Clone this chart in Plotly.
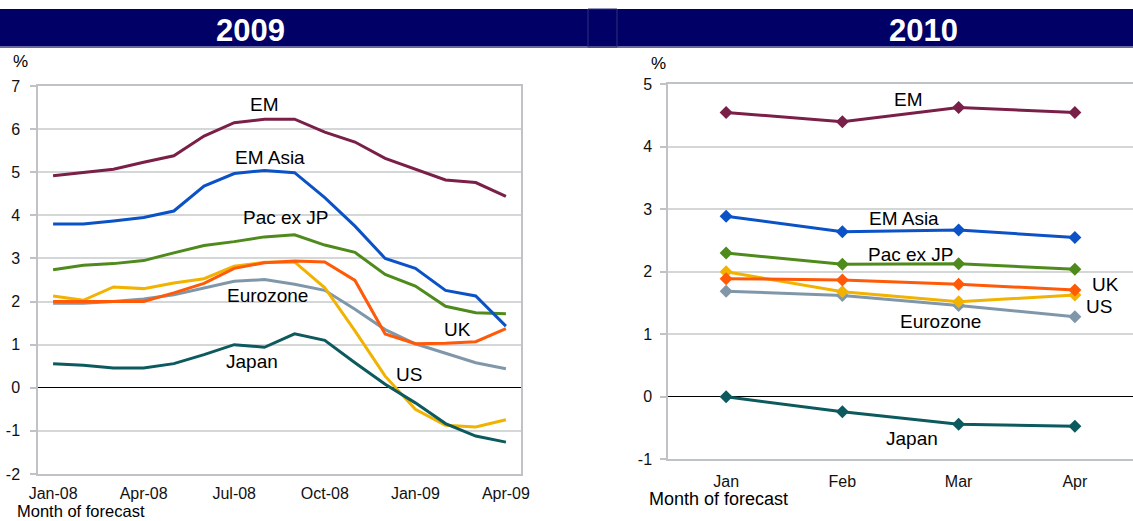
import plotly.graph_objects as go

months_2009 = ["Jan-08", "Feb-08", "Mar-08", "Apr-08", "May-08", "Jun-08", "Jul-08", "Aug-08",
               "Sep-08", "Oct-08", "Nov-08", "Dec-08", "Jan-09", "Feb-09", "Mar-09", "Apr-09"]
ticks_2009 = ["Jan-08", "Apr-08", "Jul-08", "Oct-08", "Jan-09", "Apr-09"]
months_2010 = ["Jan", "Feb", "Mar", "Apr"]
yticks_2009 = [-2, -1, 0, 1, 2, 3, 4, 5, 6, 7]
yticks_2010 = [-1, 0, 1, 2, 3, 4, 5]

em_2009 = [4.92, 5.0, 5.07, 5.23, 5.38, 5.84, 6.15, 6.23, 6.23, 5.93, 5.70, 5.32, 5.07, 4.82, 4.76, 4.44]
emasia_2009 = [3.80, 3.80, 3.87, 3.95, 4.10, 4.68, 4.97, 5.04, 4.99, 4.41, 3.75, 3.00, 2.77, 2.26, 2.13, 1.43]
pac_2009 = [2.74, 2.84, 2.88, 2.95, 3.13, 3.30, 3.39, 3.50, 3.55, 3.31, 3.14, 2.63, 2.36, 1.89, 1.74, 1.72]
us_2009 = [2.13, 2.03, 2.34, 2.30, 2.43, 2.53, 2.82, 2.91, 2.92, 2.32, 1.32, 0.27, -0.50, -0.87, -0.91, -0.74]
uk_2009 = [2.0, 2.0, 2.0, 2.0, 2.2, 2.42, 2.77, 2.90, 2.94, 2.92, 2.49, 1.25, 1.02, 1.03, 1.07, 1.37]
euro_2009 = [1.96, 1.96, 2.0, 2.06, 2.16, 2.32, 2.47, 2.51, 2.40, 2.26, 1.82, 1.35, 1.02, 0.80, 0.58, 0.44]
japan_2009 = [0.56, 0.52, 0.46, 0.46, 0.56, 0.77, 1.0, 0.94, 1.25, 1.10, 0.58, 0.08, -0.35, -0.83, -1.12, -1.26]

em_2010 = [4.55, 4.40, 4.63, 4.55]
emasia_2010 = [2.89, 2.64, 2.67, 2.55]
pac_2010 = [2.30, 2.12, 2.13, 2.04]
us_2010 = [2.0, 1.68, 1.52, 1.63]
uk_2010 = [1.89, 1.87, 1.80, 1.71]
euro_2010 = [1.69, 1.62, 1.46, 1.28]
japan_2010 = [0.0, -0.24, -0.44, -0.47]

series_names = ["EM", "EM Asia", "Pac ex JP", "US", "UK", "Eurozone", "Japan"]
colors = ["#7a1f48", "#0b52c6", "#4e8b1c", "#f2b200", "#fe5a08", "#8097aa", "#0d5a5e"]

data_2009 = [em_2009, emasia_2009, pac_2009, us_2009, uk_2009, euro_2009, japan_2009]
data_2010 = [em_2010, emasia_2010, pac_2010, us_2010, uk_2010, euro_2010, japan_2010]

# label positions (category index, value)
labels_2009 = [("EM", 7.0, 6.57), ("EM Asia", 7.2, 5.34), ("Pac ex JP", 7.7, 3.95),
               ("Eurozone", 7.1, 2.14), ("UK", 13.4, 1.35), ("US", 11.8, 0.31), ("Japan", 6.6, 0.61)]
labels_2010 = [("EM", 1.57, 4.76), ("EM Asia", 1.53, 2.86), ("Pac ex JP", 1.59, 2.28),
               ("UK", 3.26, 1.79), ("US", 3.21, 1.44), ("Eurozone", 1.84, 1.21), ("Japan", 1.6, -0.66)]

FONT = "Liberation Sans, Arial, sans-serif"
W, H = 1133, 521

fig = go.Figure()

order = [5, 3, 4, 2, 1, 0, 6]
for i in order:
    fig.add_trace(go.Scatter(x=months_2009, y=data_2009[i], mode="lines", name=series_names[i],
                             line=dict(color=colors[i], width=3), xaxis="x", yaxis="y",
                             showlegend=False, hoverinfo="skip"))
for i in order:
    fig.add_trace(go.Scatter(x=months_2010, y=data_2010[i], mode="lines+markers", name=series_names[i],
                             line=dict(color=colors[i], width=3),
                             marker=dict(symbol="diamond", size=10, color=colors[i]),
                             xaxis="x2", yaxis="y2", showlegend=False, hoverinfo="skip"))

annotations = []
for txt, xi, yv in labels_2009:
    annotations.append(dict(text=txt, x=xi, y=yv, xref="x", yref="y", showarrow=False,
                            xanchor="center", yanchor="middle",
                            font=dict(family=FONT, size=19, color="#000000")))
for txt, xi, yv in labels_2010:
    annotations.append(dict(text=txt, x=xi, y=yv, xref="x2", yref="y2", showarrow=False,
                            xanchor="center", yanchor="middle",
                            font=dict(family=FONT, size=19, color="#000000")))


def px_x(p):
    return p / W


def px_y(p):
    return 1 - p / H


def paper_text(txt, x, y, size, color="#000", xanchor="center", yanchor="middle"):
    return dict(text=txt, x=px_x(x), y=px_y(y), xref="paper", yref="paper", xanchor=xanchor,
                yanchor=yanchor, showarrow=False, borderpad=0,
                font=dict(family=FONT, size=size, color=color))


annotations.append(paper_text("<b>2009</b>", 250, 30, 31, "white"))
annotations.append(paper_text("<b>2010</b>", 923, 30, 31, "white"))
annotations.append(paper_text("%", 20, 62, 17))
annotations.append(paper_text("%", 658, 64, 17))
annotations.append(paper_text("Month of forecast", 16, 521, 16.5, xanchor="left", yanchor="bottom"))
annotations.append(paper_text("Month of forecast", 648, 499, 18, xanchor="left"))

shapes = [
    dict(type="rect", xref="paper", yref="paper", x0=0, x1=1, y0=px_y(46), y1=px_y(9),
         fillcolor="#000066", line=dict(width=0), layer="below"),
    dict(type="rect", xref="paper", yref="paper", x0=0, x1=1, y0=px_y(48), y1=px_y(46),
         fillcolor="#6a6aa2", line=dict(width=0), layer="below"),
    dict(type="rect", xref="paper", yref="paper", x0=px_x(588), x1=px_x(617), y0=px_y(47), y1=px_y(9),
         fillcolor="rgba(0,0,0,0)", line=dict(width=1, color="#30307a"), layer="below"),
]

grid = "#d4d6d8"
axline = "#bfc3c7"
tickfont = dict(family=FONT, size=16, color="#111111")

fig.update_layout(
    width=W, height=H, margin=dict(l=0, r=0, t=0, b=0, autoexpand=False),
    paper_bgcolor="white", plot_bgcolor="white",
    annotations=annotations, shapes=shapes,
    xaxis=dict(domain=[px_x(38), px_x(521)], type="category", categoryorder="array",
               categoryarray=months_2009, tickvals=ticks_2009, ticktext=ticks_2009,
               range=[-0.5, 15.5], showgrid=False, showline=True, linecolor=axline, linewidth=1.5,
               mirror=True, ticks="", tickfont=tickfont, ticklabelstandoff=4, anchor="y",
               automargin=False),
    yaxis=dict(domain=[px_y(474), px_y(86)], range=[-2, 7], tickvals=yticks_2009,
               ticktext=[str(v) for v in yticks_2009], showgrid=True, gridcolor=grid,
               gridwidth=1.5, showline=True, linecolor=axline, linewidth=1.5, mirror=True,
               ticks="outside", ticklen=6, tickcolor=axline, tickwidth=1.5, tickfont=tickfont,
               ticklabelstandoff=7,
               zeroline=True, zerolinecolor="#000000", zerolinewidth=1, anchor="x", automargin=False),
    xaxis2=dict(domain=[px_x(668), 1.0], type="category", categoryorder="array",
                categoryarray=months_2010, range=[-0.5, 3.5], showgrid=False, showline=True,
                linecolor=axline, linewidth=1.5, mirror=True, ticks="", tickfont=tickfont,
                ticklabelstandoff=7, anchor="y2", automargin=False),
    yaxis2=dict(domain=[px_y(459.3), px_y(84.3)], range=[-1, 5], tickvals=yticks_2010,
                ticktext=[str(v) for v in yticks_2010], showgrid=True, gridcolor=grid,
                gridwidth=1.5, showline=True, linecolor=axline, linewidth=1.5, mirror=True,
                ticks="outside", ticklen=6, tickcolor=axline, tickwidth=1.5, tickfont=tickfont,
                ticklabelstandoff=5,
                zeroline=True, zerolinecolor="#000000", zerolinewidth=1, anchor="x2", automargin=False),
)

fig.write_html("out.html", post_script="document.body.style.margin='0';document.body.style.padding='0';")
